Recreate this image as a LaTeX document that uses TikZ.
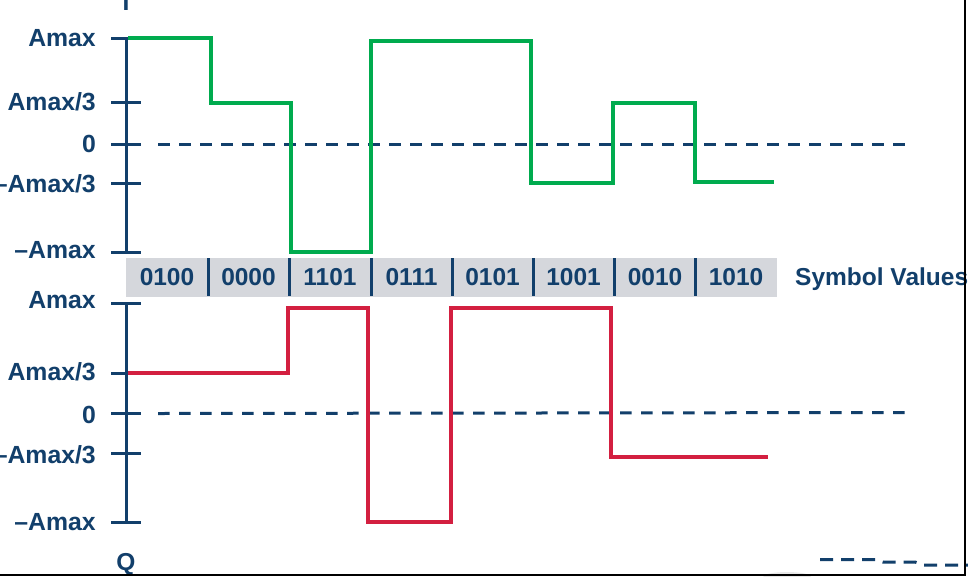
\documentclass[tikz,border=0pt]{standalone}
\usepackage{fontspec}
\setmainfont{Liberation Sans}
\definecolor{navy}{HTML}{123F6B}
\definecolor{igreen}{HTML}{00AB4E}
\definecolor{qred}{HTML}{D31F40}
\definecolor{barbg}{HTML}{D5D7DC}
\begin{document}
\begin{tikzpicture}[x=1pt,y=-1pt,
  lbl/.style={font=\fontsize{24.8}{28}\selectfont\bfseries,text=navy,inner sep=0pt,anchor=base east},
  sym/.style={font=\fontsize{24.5}{28}\selectfont\bfseries,text=navy,inner sep=0pt,anchor=base},
  axisline/.style={draw=navy,line width=3pt},
  zeroline/.style={draw=navy,line width=3pt,dash pattern=on 11.5pt off 9.5pt},
  sigI/.style={draw=igreen,line width=4pt},
  sigQ/.style={draw=qred,line width=4pt},
  sepline/.style={draw=navy,line width=3pt}]
\useasboundingbox (0,0) rectangle (968,576);
\fill[white] (0,0) rectangle (968,576);
% symbol bar
\fill[barbg] (126,257.5) rectangle (777,297);
\foreach \x in {208.5,289.5,371,452,533,614,695.5}
  \draw[sepline] (\x,258) -- (\x,296);
\foreach \x/\t [count=\i] in {167/0100,248.5/0000,330/1101,411.5/0111,492.5/0101,573.5/1001,655/0010,736/1010}
  \node[sym] (s\i) at (\x,285) {\t};
\node[sym,anchor=base west] (symlab) at (795,285) {Symbol Values};
% I axis
\node[sym] (ilab) at (126,10) {I};
\draw[axisline] (126,38) -- (126,252);
\foreach \y in {38,102.5,144,183.5,252}
  \draw[axisline] (111,\y) -- (141,\y);
\node[lbl] (ia) at (96,46.7) {Amax};
\node[lbl] (ib) at (96,110.5) {Amax/3};
\node[lbl] (ic) at (96,152.5) {0};
\node[lbl] (id) at (96,192) {–Amax/3};
\node[lbl] (ie) at (96,258.5) {–Amax};
\draw[zeroline] (158,144) -- (912,144);
% Q axis
\draw[axisline] (126,303) -- (126,522.5);
\foreach \y in {303,373,413.5,453.5,522.5}
  \draw[axisline] (111,\y) -- (141,\y);
\node[lbl] (qa) at (96,308.5) {Amax};
\node[lbl] (qb) at (96,380.5) {Amax/3};
\node[lbl] (qc) at (96,423) {0};
\node[lbl] (qd) at (96,463) {–Amax/3};
\node[lbl] (qe) at (96,530.5) {–Amax};
\node[sym] (qlab) at (126,570) {Q};
\draw[zeroline] (158,413.5) -- (912,412.5);
% signals
\draw[sigI,line join=miter] (128,38.3) -- (210.5,38.3) -- (210.5,102.7) -- (290.7,102.7) -- (290.7,252)
  -- (370.7,252) -- (370.7,41) -- (530.7,41) -- (530.7,183.3) -- (613.3,183.3) -- (613.3,102.7)
  -- (695,102.7) -- (695,181.7) -- (774.3,181.7);
\draw[sigQ,line join=miter] (128,372.7) -- (288.3,372.7) -- (288.3,308.3) -- (368.3,308.3) -- (368.3,522.3)
  -- (451,522.3) -- (451,308.3) -- (611,308.3) -- (611,456.7) -- (767.7,456.7);
% stray fragment bottom right
\draw[navy,line width=3pt,dash pattern=on 13pt off 8pt] (820,559.5) -- (875,559.5) -- (883,562) -- (915,562) -- (924,565) -- (968,565);
\fill[gray!25,opacity=0.7] (787,577) ellipse (24pt and 5pt);
% frame
\draw[black,line width=2.5pt] (0,575) -- (965,575) -- (965,0);
\end{tikzpicture}
\end{document}
